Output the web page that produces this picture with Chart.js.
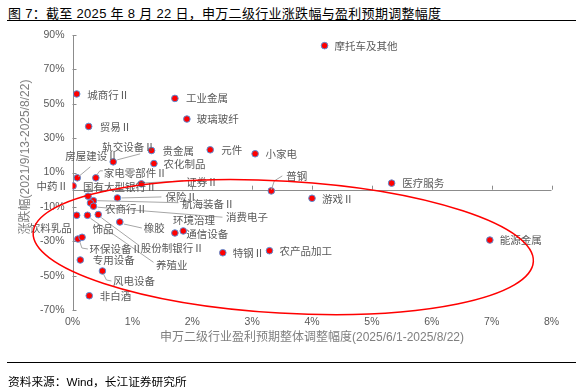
<!DOCTYPE html>
<html lang="zh-CN">
<head>
<meta charset="UTF-8" />
<title>申万二级行业涨跌幅与盈利预期调整幅度</title>
<script src="https://cdn.jsdelivr.net/npm/chart.js"></script>
<style>
  body { margin: 0; background: #fff; }
  #wrap {
    position: relative; width: 581px; height: 390px; overflow: hidden;
    font-family: "Liberation Sans", "Noto Sans CJK SC", sans-serif;
  }
  #chart { position: absolute; left: 0; top: 0; }
  .head { position: absolute; left: 8px; top: 3px; font-size: 13px; letter-spacing: 0.3px; color: #000; white-space: nowrap; }
  .rule { position: absolute; left: 7px; width: 569px; height: 0; border-top: 1px solid #000; }
  .src { position: absolute; left: 8px; top: 372px; font-size: 11.7px; color: #000; white-space: nowrap; }
</style>
</head>
<body>
<div id="wrap">
  <div class="head">图 7：截至 2025 年 8 月 22 日，申万二级行业涨跌幅与盈利预期调整幅度</div>
  <div class="rule" style="top:20px"></div>
  <canvas id="chart" width="581" height="390"></canvas>
  <div class="rule" style="top:362px"></div>
  <div class="src">资料来源：Wind，长江证券研究所</div>
</div>
<script>
// 行业名称
const industries = [
  "摩托车及其他", "城商行Ⅱ", "工业金属", "玻璃玻纤", "贸易Ⅱ", "轨交设备Ⅱ",
  "贵金属", "元件", "小家电", "农化制品", "房屋建设Ⅱ", "家电零部件Ⅱ",
  "中药Ⅱ", "证券Ⅱ", "普钢", "医疗服务", "游戏Ⅱ", "保险Ⅱ",
  "国有大型银行Ⅱ", "航海装备Ⅱ", "农商行Ⅱ", "消费电子", "饮料乳品", "养殖业",
  "股份制银行Ⅱ", "橡胶", "环境治理", "通信设备", "环保设备Ⅱ", "饰品",
  "特钢Ⅱ", "农产品加工", "能源金属", "专用设备", "风电设备", "非白酒"
];
// 盈利预期调整幅度 (%)
const earningsRevision = [
  4.21, 0.07, 1.71, 1.91, 0.27, 0.68,
  1.32, 2.30, 3.05, 1.36, 0.08, 0.39,
  0.01, 1.15, 3.32, 5.33, 4.00, 0.75,
  0.26, 0.35, 0.30, 0.35, 0.07, 0.25,
  0.43, 0.79, 1.71, 1.85, 0.09, 0.16,
  2.51, 3.29, 6.97, 0.13, 0.50, 0.28
];
// 涨跌幅 (%)
const priceChange = [
  83.8, 55.7, 53.1, 41.1, 36.8, 16.2,
  22.8, 23.2, 20.9, 15.2, 6.9, 6.9,
  2.2, 3.4, -0.7, 3.8, -5.0, -4.8,
  -3.8, -6.4, -7.7, -9.6, -14.9, -14.9,
  -14.5, -18.8, -25.2, -24.0, -28.7, -27.7,
  -36.7, -35.5, -29.3, -40.9, -47.3, -61.7
];
const xTickValues = [0, 1, 2, 3, 4, 5, 6, 7, 8];
const yTickValues = [-70, -50, -30, -10, 10, 30, 50, 70, 90];

// 标签位置（相对点的像素偏移），可选引导线
const labelPlacement = {
  "摩托车及其他": { dx: 10, dy: 0 },
  "城商行Ⅱ": { dx: 10.5, dy: 1 },
  "工业金属": { dx: 11, dy: 0 },
  "玻璃玻纤": { dx: 10, dy: 0 },
  "贸易Ⅱ": { dx: 11, dy: 1 },
  "轨交设备Ⅱ": { dx: -11, dy: -15, line: [[4, -2], [27, -8]] },
  "贵金属": { dx: 11, dy: 1 },
  "元件": { dx: 11, dy: 0 },
  "小家电": { dx: 10.5, dy: 0 },
  "农化制品": { dx: 9.5, dy: 0 },
  "房屋建设Ⅱ": { dx: -12, dy: -22, line: [[1, -1], [13, -11]] },
  "家电零部件Ⅱ": { dx: 8, dy: -5, line: [[1, -3], [4, -7], [7, -7]] },
  "中药Ⅱ": { dx: -5, dy: 0.5, align: "right" },
  "证券Ⅱ": { dx: 45, dy: -2, line: [[4, -1], [42, -3]] },
  "普钢": { dx: 15, dy: -15, line: [[0, -1], [3, -10], [11, -15]] },
  "医疗服务": { dx: 10.5, dy: 0 },
  "游戏Ⅱ": { dx: 10, dy: 1 },
  "保险Ⅱ": { dx: 48, dy: -0.5, line: [[4, 0], [44, -1]] },
  "国有大型银行Ⅱ": { dx: -5, dy: -9.5 },
  "航海装备Ⅱ": { dx: 88.5, dy: 3, line: [[4, 0], [85, 2]] },
  "农商行Ⅱ": { dx: 14.5, dy: 6.5 },
  "消费电子": { dx: 132.5, dy: 11, line: [[4, 1], [129, 11]] },
  "饮料乳品": { dx: -5, dy: 12.5, align: "right" },
  "养殖业": { dx: 68.5, dy: 49.5, line: [[3, 3], [66, 47]] },
  "股份制银行Ⅱ": { dx: 42.5, dy: 33.5, line: [[3, 3], [41, 31]] },
  "橡胶": { dx: 24, dy: 6.5, line: [[4, 2], [22, 6]] },
  "环境治理": { dx: -2, dy: -12.5 },
  "通信设备": { dx: 3, dy: 3 },
  "环保设备Ⅱ": { dx: 11.5, dy: 10, line: [[2, 3], [4, 9], [10, 10]] },
  "饰品": { dx: 10.5, dy: -8.5 },
  "特钢Ⅱ": { dx: 10, dy: 0.5 },
  "农产品加工": { dx: 10, dy: 0 },
  "能源金属": { dx: 10, dy: 0 },
  "专用设备": { dx: 12.5, dy: 0 },
  "风电设备": { dx: 10.5, dy: 10, line: [[1, 3], [4, 9], [9, 10]] },
  "非白酒": { dx: 10.5, dy: 0 }
};

const FONT = '"Liberation Sans", "Noto Sans CJK SC", sans-serif';
const CJK_FONT = '"Noto Sans CJK SC", sans-serif';
Chart.defaults.font.family = FONT;

const points = industries.map((name, i) => ({ x: earningsRevision[i], y: priceChange[i] }));

// 坐标轴、标签、红色椭圆
const overlay = {
  id: "overlay",
  beforeDatasetsDraw(chart) {
    const { ctx, scales: { x, y } } = chart;
    const x0 = x.getPixelForValue(0);
    const y0 = y.getPixelForValue(0);
    ctx.save();
    ctx.strokeStyle = "#8c8c8c";
    ctx.lineWidth = 1;
    ctx.beginPath();
    ctx.moveTo(Math.round(x0) + 0.5, y.top);
    ctx.lineTo(Math.round(x0) + 0.5, y.bottom);
    yTickValues.forEach(v => {
      const py = Math.round(y.getPixelForValue(v)) + 0.5;
      ctx.moveTo(x0, py);
      ctx.lineTo(x0 + 4, py);
    });
    ctx.moveTo(x.left, Math.round(y0) + 0.5);
    ctx.lineTo(x.right, Math.round(y0) + 0.5);
    xTickValues.forEach(v => {
      const px = Math.round(x.getPixelForValue(v)) + 0.5;
      ctx.moveTo(px, y0);
      ctx.lineTo(px, y0 - 4);
    });
    ctx.stroke();

    // 纵轴标题
    ctx.fillStyle = "#7f7f7f";
    ctx.font = "12px " + FONT;
    ctx.textAlign = "center";
    ctx.textBaseline = "middle";
    ctx.translate(26, 157);
    ctx.rotate(-Math.PI / 2);
    ctx.fillText("涨跌幅(2021/9/13-2025/8/22)", 0, 0);
    ctx.restore();
  },
  afterDatasetsDraw(chart) {
    const { ctx, scales: { x, y } } = chart;
    ctx.save();
    // 引导线
    ctx.strokeStyle = "#a6a6a6";
    ctx.lineWidth = 1;
    industries.forEach((name, i) => {
      const p = labelPlacement[name];
      if (!p.line) return;
      const px = x.getPixelForValue(earningsRevision[i]);
      const py = y.getPixelForValue(priceChange[i]);
      ctx.beginPath();
      p.line.forEach(([lx, ly], k) => {
        if (k === 0) ctx.moveTo(px + lx, py + ly);
        else ctx.lineTo(px + lx, py + ly);
      });
      ctx.stroke();
    });
    // 标签
    ctx.fillStyle = "#595959";
    ctx.font = "10.5px " + CJK_FONT;
    ctx.textBaseline = "middle";
    industries.forEach((name, i) => {
      const p = labelPlacement[name];
      const px = x.getPixelForValue(earningsRevision[i]);
      const py = y.getPixelForValue(priceChange[i]);
      ctx.textAlign = p.align || "left";
      ctx.fillText(name, px + p.dx, py + p.dy);
    });
    // 红色椭圆
    const cx = x.getPixelForValue(3.52);
    const cy = y.getPixelForValue(-33.4);
    ctx.strokeStyle = "#ff0000";
    ctx.lineWidth = 1.5;
    ctx.beginPath();
    ctx.ellipse(cx, cy, 250.5, 66, 0.058, 0, Math.PI * 2);
    ctx.stroke();
    ctx.restore();
  }
};

new Chart(document.getElementById("chart"), {
  type: "scatter",
  data: {
    datasets: [{
      label: "申万二级行业",
      data: points,
      backgroundColor: "#ff0000",
      borderColor: "#5b8fd6",
      borderWidth: 1,
      pointRadius: 3.3,
      pointHoverRadius: 3.3
    }]
  },
  options: {
    responsive: false,
    animation: false,
    devicePixelRatio: 1,
    layout: { padding: { top: 35, right: 29.5, bottom: 40, left: 0 } },
    plugins: { legend: { display: false }, tooltip: { enabled: false } },
    scales: {
      x: {
        type: "linear",
        min: 0, max: 8,
        afterBuildTicks: s => { s.ticks = xTickValues.map(v => ({ value: v })); },
        afterFit: s => { s.height = 40; },
        grid: { display: false, drawTicks: false },
        border: { display: false },
        ticks: { color: "#595959", font: { size: 10.5 }, padding: 6, callback: v => v + "%" },
        title: {
          display: true,
          text: "申万二级行业盈利预期整体调整幅度(2025/6/1-2025/8/22)",
          color: "#7f7f7f",
          font: { size: 12 },
          padding: { top: 0, bottom: 5 }
        }
      },
      y: {
        type: "linear",
        min: -70, max: 90,
        afterBuildTicks: s => { s.ticks = yTickValues.map(v => ({ value: v })); },
        afterFit: s => { s.width = 72.5; },
        grid: { display: false, drawTicks: false },
        border: { display: false },
        ticks: { color: "#595959", font: { size: 10.5 }, padding: 8, callback: v => v + "%" }
      }
    }
  },
  plugins: [overlay]
});
</script>
</body>
</html>
